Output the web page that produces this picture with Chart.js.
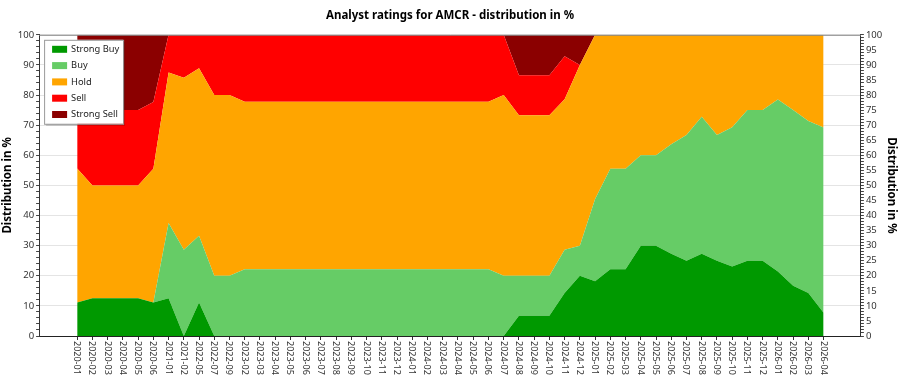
<!DOCTYPE html>
<html>
<head>
<meta charset="utf-8">
<script src="https://cdn.jsdelivr.net/npm/chart.js@4.4.1/dist/chart.umd.min.js"></script>
<style>
html, body { margin: 0; padding: 0; background: #fff; }
#wrap { width: 900px; height: 375px; }
</style>
</head>
<body>
<div id="wrap"><canvas id="ratingsChart"></canvas></div>
<script>
const months = ['2020-01', '2020-02', '2020-03', '2020-04', '2020-05', '2020-06', '2021-01', '2021-02', '2022-05', '2022-07',
    '2022-09', '2023-02', '2023-03', '2023-04', '2023-05', '2023-06', '2023-07', '2023-08', '2023-09', '2023-10',
    '2023-11', '2023-12', '2024-01', '2024-02', '2024-03', '2024-04', '2024-05', '2024-06', '2024-07', '2024-08',
    '2024-09', '2024-10', '2024-11', '2024-12', '2025-01', '2025-02', '2025-03', '2025-04', '2025-05', '2025-06',
    '2025-07', '2025-08', '2025-09', '2025-10', '2025-11', '2025-12', '2026-01', '2026-02', '2026-03', '2026-04'];

const strongBuy = [11.1, 12.5, 12.5, 12.5, 12.5, 11.1, 12.5, 0, 11.1, 0,
    0, 0, 0, 0, 0, 0, 0, 0, 0, 0,
    0, 0, 0, 0, 0, 0, 0, 0, 0, 6.7,
    6.7, 6.7, 14.3, 20, 18.2, 22.2, 22.2, 30, 30, 27.3,
    25, 27.3, 25, 23.1, 25, 25, 21.4, 16.7, 14.3, 7.7];
const buy = [0, 0, 0, 0, 0, 0, 25, 28.6, 22.2, 20,
    20, 22.2, 22.2, 22.2, 22.2, 22.2, 22.2, 22.2, 22.2, 22.2,
    22.2, 22.2, 22.2, 22.2, 22.2, 22.2, 22.2, 22.2, 20, 13.3,
    13.3, 13.3, 14.3, 10, 27.3, 33.3, 33.3, 30, 30, 36.4,
    41.7, 45.5, 41.7, 46.2, 50, 50, 57.1, 58.3, 57.1, 61.5];
const hold = [44.5, 37.5, 37.5, 37.5, 37.5, 44.4, 50, 57.1, 55.6, 60,
    60, 55.6, 55.6, 55.6, 55.6, 55.6, 55.6, 55.6, 55.6, 55.6,
    55.6, 55.6, 55.6, 55.6, 55.6, 55.6, 55.6, 55.6, 60, 53.3,
    53.3, 53.3, 50, 60, 54.5, 44.5, 44.5, 40, 40, 36.3,
    33.3, 27.2, 33.3, 30.7, 25, 25, 21.5, 25, 28.6, 30.8];
const sell = [19.4, 25, 25, 25, 25, 22.2, 12.5, 14.3, 11.1, 20,
    20, 22.2, 22.2, 22.2, 22.2, 22.2, 22.2, 22.2, 22.2, 22.2,
    22.2, 22.2, 22.2, 22.2, 22.2, 22.2, 22.2, 22.2, 20, 13.3,
    13.3, 13.3, 14.3, 0, 0, 0, 0, 0, 0, 0,
    0, 0, 0, 0, 0, 0, 0, 0, 0, 0];
const strongSell = [25, 25, 25, 25, 25, 22.3, 0, 0, 0, 0,
    0, 0, 0, 0, 0, 0, 0, 0, 0, 0,
    0, 0, 0, 0, 0, 0, 0, 0, 0, 13.4,
    13.4, 13.4, 7.1, 10, 0, 0, 0, 0, 0, 0,
    0, 0, 0, 0, 0, 0, 0, 0, 0, 0];

const seriesNames = ['Strong Buy', 'Buy', 'Hold', 'Sell', 'Strong Sell'];
const seriesColors = ['#009900', '#66cc66', '#ffa500', '#ff0000', '#8b0000'];
const seriesValues = [strongBuy, buy, hold, sell, strongSell];

const FONT = '"Noto Sans", "Open Sans", sans-serif';

const datasets = seriesValues.map((vals, k) => ({
    label: seriesNames[k],
    data: vals.map((v, i) => ({ x: i, y: v })),
    backgroundColor: seriesColors[k],
    borderWidth: 0,
    pointRadius: 0,
    tension: 0,
    fill: k === 0 ? 'origin' : '-1'
}));

// rotated month labels (reading top to bottom) + frame + legend box
const decoPlugin = {
    id: 'deco',
    afterDraw(chart) {
        const ctx = chart.ctx;
        const xs = chart.scales.x;
        const area = chart.chartArea;
        ctx.save();
        // top frame line
        ctx.strokeStyle = '#888';
        ctx.lineWidth = 1;
        ctx.beginPath();
        ctx.moveTo(area.left, area.top + 0.5);
        ctx.lineTo(area.right, area.top + 0.5);
        ctx.stroke();

        ctx.fillStyle = '#333';
        ctx.font = '9px ' + FONT;
        ctx.textAlign = 'left';
        ctx.textBaseline = 'middle';
        months.forEach((m, i) => {
            const px = xs.getPixelForValue(i);
            ctx.save();
            ctx.translate(px, area.bottom + 5);
            ctx.rotate(Math.PI / 2);
            ctx.fillText(m, 0, 0.5);
            ctx.restore();
        });

        // legend
        const lx = area.left + 5, ly = area.top + 5, lw = 79, lh = 84;
        ctx.fillStyle = 'rgba(0,0,0,0.18)';
        ctx.fillRect(lx + 2, ly + 2, lw, lh);
        ctx.fillStyle = '#fff';
        ctx.fillRect(lx, ly, lw, lh);
        ctx.strokeStyle = '#999';
        ctx.strokeRect(lx + 0.5, ly + 0.5, lw, lh);
        ctx.font = '9.3px ' + FONT;
        seriesNames.forEach((name, k) => {
            const cy = ly + 9.5 + k * 16.3;
            ctx.fillStyle = seriesColors[k];
            ctx.fillRect(lx + 8, cy - 3.5, 15, 7);
            ctx.fillStyle = '#222';
            ctx.fillText(name, lx + 27, cy);
        });
        ctx.restore();
    }
};

const chart = new Chart(document.getElementById('ratingsChart'), {
    type: 'line',
    data: { datasets: datasets },
    options: {
        responsive: true,
        maintainAspectRatio: false,
        animation: false,
        layout: {
            padding: { left: 1, right: 1, top: 0, bottom: 35 }
        },
        plugins: {
            legend: { display: false },
            tooltip: { enabled: false },
            title: {
                display: true,
                text: 'Analyst ratings for AMCR - distribution in %',
                color: '#000',
                font: { family: FONT, size: 11.5, weight: 'bold' },
                padding: { top: 9, bottom: 12 }
            }
        },
        scales: {
            x: {
                type: 'linear',
                min: -2.5,
                max: 51.45,
                afterBuildTicks: (scale) => {
                    scale.ticks = months.map((m, i) => ({ value: i }));
                },
                ticks: { display: false },
                grid: {
                    drawOnChartArea: false,
                    tickLength: 4,
                    tickColor: '#333'
                },
                border: { color: '#222' }
            },
            y: {
                position: 'left',
                stacked: true,
                min: 0,
                max: 100,
                afterBuildTicks: (scale) => {
                    const t = [];
                    for (let v = 0; v <= 100; v += 2) t.push({ value: v });
                    scale.ticks = t;
                },
                ticks: {
                    autoSkip: false,
                    color: '#333',
                    padding: 2,
                    font: { family: FONT, size: 9.5 },
                    callback: (v) => (v % 10 === 0 ? v : '')
                },
                grid: {
                    color: (c) => (c.tick && c.tick.value % 10 === 0 ? '#e4e4e4' : 'rgba(0,0,0,0)'),
                    tickColor: '#444',
                    tickLength: 3
                },
                border: { color: '#333' },
                title: {
                    display: true,
                    text: 'Distribution in %',
                    color: '#000',
                    font: { family: FONT, size: 11.5, weight: 'bold' },
                    padding: { top: 0, bottom: 1 }
                }
            },
            y2: {
                position: 'right',
                min: 0,
                max: 100,
                afterBuildTicks: (scale) => {
                    const t = [];
                    for (let v = 0; v <= 100; v += 1) t.push({ value: v });
                    scale.ticks = t;
                },
                ticks: {
                    autoSkip: false,
                    color: '#333',
                    padding: 2,
                    font: { family: FONT, size: 9.5 },
                    callback: (v) => (v % 5 === 0 ? v : '')
                },
                grid: {
                    drawOnChartArea: false,
                    tickColor: '#444',
                    tickLength: 3
                },
                border: { color: '#333' },
                title: {
                    display: true,
                    text: 'Distribution in %',
                    color: '#000',
                    font: { family: FONT, size: 11.5, weight: 'bold' },
                    padding: { top: 1, bottom: 0 }
                }
            }
        }
    },
    plugins: [decoPlugin]
});
</script>
</body>
</html>
